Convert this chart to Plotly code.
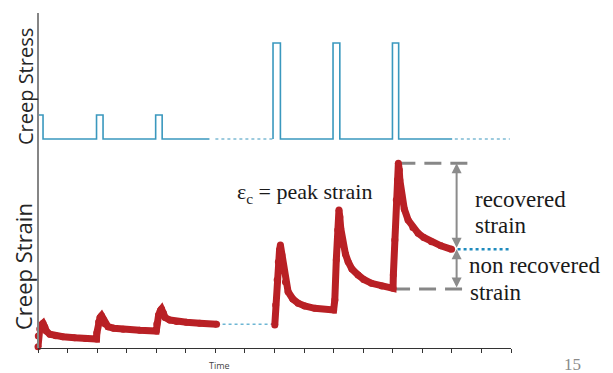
import plotly.graph_objects as go

# ---- data ----
# creep stress (loading pulses), time in arbitrary units
stress_t1 = [0.0, 0.17, 0.17, 1.98, 1.98, 2.2, 2.2, 3.98, 3.98, 4.2, 4.2, 5.8]
stress_v1 = [2.0, 2.0, 0.0, 0.0, 2.0, 2.0, 0.0, 0.0, 2.0, 2.0, 0.0, 0.0]
stress_gap1_t = [6.0, 7.95]
stress_gap1_v = [0.0, 0.0]
stress_t2 = [7.95, 7.95, 8.2, 8.2, 9.98, 9.98, 10.21, 10.21, 11.99, 11.99, 12.2, 12.2, 14.01]
stress_v2 = [0.0, 8.0, 8.0, 0.0, 0.0, 8.0, 8.0, 0.0, 0.0, 8.0, 8.0, 0.0, 0.0]
stress_gap2_t = [14.1, 15.96]
stress_gap2_v = [0.0, 0.0]

# creep strain response (three small cycles, then three large cycles)
strain_t1 = [0.0, 0.01, 0.06, 0.11, 0.17, 0.23, 0.28, 0.40, 0.60, 0.84, 1.24, 1.61, 1.98,
             1.99, 2.05, 2.10, 2.15, 2.21, 2.27, 2.37, 2.56, 2.88, 3.44, 4.0,
             4.02, 4.08, 4.14, 4.18, 4.24, 4.30, 4.46, 4.69, 5.02, 5.47, 6.04]
strain_v1 = [0.13, 1.2, 1.9, 2.3, 2.47, 2.1, 1.7, 1.37, 1.22, 1.13, 1.02, 0.95, 0.9,
             1.5, 2.6, 3.05, 3.23, 2.85, 2.4, 2.13, 1.98, 1.87, 1.77, 1.7,
             2.4, 3.3, 3.75, 3.9, 3.5, 3.05, 2.8, 2.65, 2.57, 2.47, 2.37]
strain_t2 = [8.01, 8.04, 8.09, 8.13, 8.17, 8.2, 8.25, 8.29, 8.37, 8.46, 8.62, 8.8, 9.02, 9.36, 10.0,
             10.04, 10.09, 10.14, 10.18, 10.21, 10.24, 10.32, 10.40, 10.49, 10.62, 10.83, 11.02,
             11.28, 11.63, 12.01,
             12.02, 12.07, 12.12, 12.16, 12.19, 12.22, 12.24, 12.30, 12.39, 12.52, 12.68, 12.86,
             13.05, 13.31, 13.63, 13.99]
strain_v2 = [2.3, 4.3, 6.8, 8.6, 9.8, 10.3, 9.3, 7.97, 6.6, 5.63, 4.9, 4.47, 4.2, 3.97, 3.8,
             4.8, 8.8, 11.8, 13.8, 13.1, 12.0, 10.3, 9.4, 8.63, 7.9, 7.3, 6.85,
             6.47, 6.2, 5.97,
             7.3, 10.8, 14.8, 16.8, 18.47, 17.8, 16.8, 15.3, 13.9, 12.8, 12.05, 11.47,
             11.05, 10.63, 10.22, 9.87]
strain_gap1_t = [6.04, 8.01]
strain_gap1_v = [2.37, 2.37]
strain_gap2_t = [13.99, 15.95]
strain_gap2_v = [9.87, 9.87]

peak_strain = 18.47
residual_strain = 9.87
start_strain = 5.9
peak_t = 12.19
start_t = 12.01
arrow_t = 14.16

RED = "#B92025"
BLUE = "#3A98BE"

fig = go.Figure()

# stress traces
fig.add_trace(go.Scatter(x=stress_t1, y=stress_v1, xaxis="x", yaxis="y2", mode="lines",
                         line=dict(color=BLUE, width=1.6), cliponaxis=False))
fig.add_trace(go.Scatter(x=stress_gap1_t, y=stress_gap1_v, xaxis="x", yaxis="y2", mode="lines",
                         line=dict(color="#7DBAD4", width=1.6, dash="dot")))
fig.add_trace(go.Scatter(x=stress_t2, y=stress_v2, xaxis="x", yaxis="y2", mode="lines",
                         line=dict(color=BLUE, width=1.6)))
fig.add_trace(go.Scatter(x=stress_gap2_t, y=stress_gap2_v, xaxis="x", yaxis="y2", mode="lines",
                         line=dict(color="#7DBAD4", width=1.6, dash="dot")))

# dashed reference lines
fig.add_trace(go.Scatter(x=[peak_t, 14.72], y=[peak_strain, peak_strain], mode="lines",
                         line=dict(color="#878787", width=3, dash="17px,9px")))
fig.add_trace(go.Scatter(x=[start_t, 14.63], y=[start_strain, start_strain], mode="lines",
                         line=dict(color="#878787", width=3, dash="17px,9px")))

# strain dotted gaps
fig.add_trace(go.Scatter(x=strain_gap1_t, y=strain_gap1_v, mode="lines",
                         line=dict(color="#6DB6D4", width=1.5, dash="dot")))
fig.add_trace(go.Scatter(x=strain_gap2_t, y=strain_gap2_v, mode="lines",
                         line=dict(color="#1E8BBE", width=2.5, dash="dot")))

# strain traces
for tt, vv in [(strain_t1, strain_v1), (strain_t2, strain_v2)]:
    fig.add_trace(go.Scatter(x=tt, y=vv, mode="lines+markers", cliponaxis=False,
                             line=dict(color=RED, width=7),
                             marker=dict(color=RED, size=7)))

annotations = [
    dict(x=arrow_t, y=peak_strain, ax=arrow_t, ay=residual_strain, xref="x", yref="y",
         axref="x", ayref="y", text="", showarrow=True, arrowhead=2, arrowside="end+start",
         arrowsize=1, arrowwidth=2, arrowcolor="#8C8C8C"),
    dict(x=arrow_t, y=residual_strain, ax=arrow_t, ay=start_strain, xref="x", yref="y",
         axref="x", ayref="y", text="", showarrow=True, arrowhead=2, arrowside="end+start",
         arrowsize=1, arrowwidth=2, arrowcolor="#8C8C8C"),
]
serif = dict(family="Liberation Serif", size=23, color="#1a1a1a")
annotations.append(dict(x=9.01, y=15.55, xref="x", yref="y", text="ε<sub>c</sub> = peak strain",
                        showarrow=False, xanchor="center", yanchor="middle",
                        font=dict(family="Liberation Serif", size=22, color="#1a1a1a")))
for txt, x, y in [("recovered", 14.7, 14.9),
                  ("strain", 14.7, 12.25),
                  ("non recovered", 14.52, 8.25),
                  ("strain", 14.55, 5.58)]:
    annotations.append(dict(x=x, y=y, xref="x", yref="y", text=txt, showarrow=False,
                            xanchor="left", yanchor="middle", font=serif))

annotations += [
    dict(x=-0.0275, y=0.782, xref="paper", yref="paper", text="Creep Stress", textangle=-90,
         xanchor="center", yanchor="middle",
         showarrow=False, font=dict(family="Open Sans", size=20, color="#262626")),
    dict(x=-0.0317, y=0.2418, xref="paper", yref="paper", text="Creep Strain", textangle=-90,
         xanchor="center", yanchor="middle",
         showarrow=False, font=dict(family="Open Sans", size=22, color="#262626")),
    dict(x=0.3837, y=-0.0537, xref="paper", yref="paper", text="Time", showarrow=False,
         xanchor="center", yanchor="middle",
         font=dict(family="Open Sans", size=9, color="#444444")),
    dict(x=1.13, y=-0.0507, xref="paper", yref="paper", text="15", showarrow=False,
         xanchor="center", yanchor="middle",
         font=dict(family="Liberation Serif", size=17, color="#8a8a8a")),
]

fig.update_layout(
    width=613, height=373,
    margin=dict(l=38, r=102, t=13, b=25),
    paper_bgcolor="white", plot_bgcolor="white",
    showlegend=False,
    xaxis=dict(range=[0, 16], dtick=1, tick0=0, showgrid=False, zeroline=False,
               showline=True, linecolor="#333333", linewidth=1.3,
               ticks="outside", ticklen=4, tickcolor="#333333", tickwidth=1,
               showticklabels=False, anchor="y"),
    yaxis=dict(domain=[0, 0.597], range=[0, 20], showgrid=False, zeroline=False,
               showline=False, showticklabels=False, ticks=""),
    yaxis2=dict(domain=[0.606, 1], range=[-0.5, 10.5], showgrid=False, zeroline=False,
                showline=False, showticklabels=False, ticks="", anchor="x"),
    shapes=[dict(type="line", xref="paper", yref="paper", x0=0, x1=0, y0=0, y1=1,
                 line=dict(color="#858585", width=2))],
    annotations=annotations,
)

fig.write_html("out.html")
